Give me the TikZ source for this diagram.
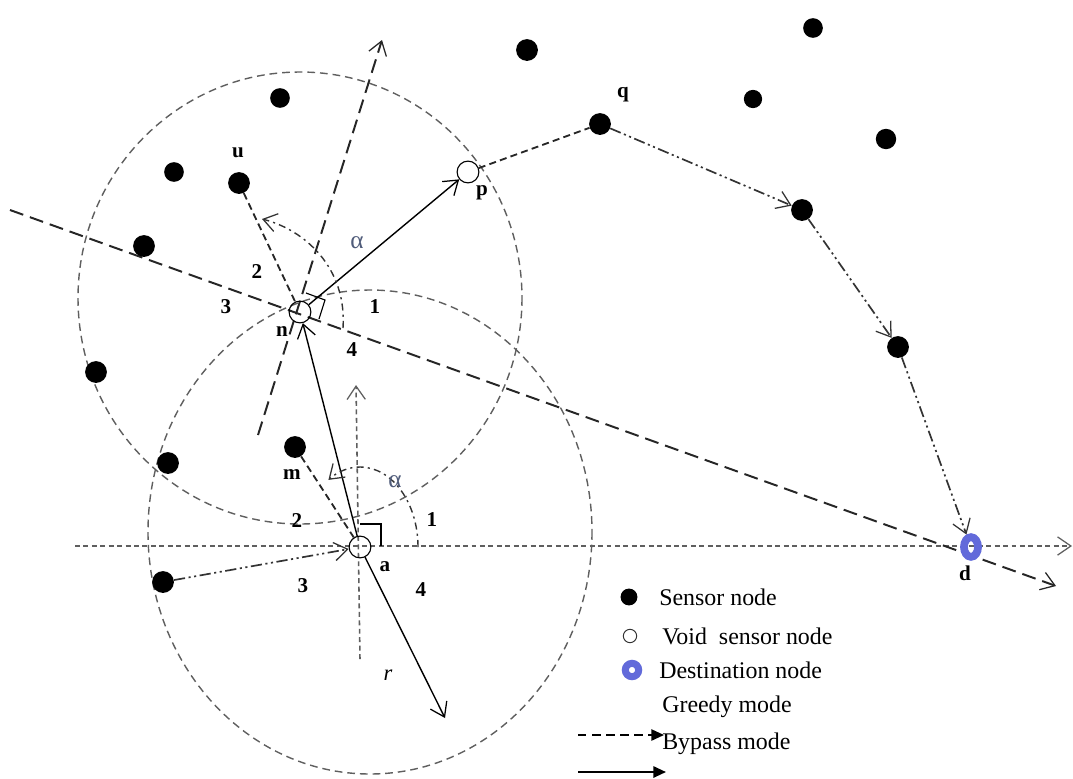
\documentclass[tikz,border=0pt]{standalone}
\usepackage{fontspec}
\setmainfont{Liberation Serif}
\usetikzlibrary{arrows.meta,shapes.geometric}

\definecolor{ringgray}{RGB}{95,95,95}
\definecolor{destblue}{RGB}{98,106,218}
\definecolor{alphagray}{RGB}{80,92,122}

\tikzset{
	sensor/.style={circle, fill=black, inner sep=0pt, minimum size=15.5pt},
	voidnode/.style={circle, draw=black, line width=0.8pt, inner sep=0pt, minimum size=15.5pt},
	dest/.style={ellipse, draw=destblue, line width=5.5pt, inner sep=0pt, minimum width=10pt, minimum height=14pt},
	lbl/.style={font=\bfseries\fontsize{15}{17}\selectfont, inner sep=0pt},
	legtext/.style={font=\fontsize{17}{19}\selectfont, inner sep=0pt, anchor=west},
	alphalbl/.style={font=\fontsize{18}{20}\selectfont, text=alphagray, inner sep=0pt},
	barb/.style={-{Straight Barb[length=9.5pt, width=13pt, line width=0.9pt]}},
	bigdash/.style={line width=1.4pt, draw=black!85, dash pattern=on 10pt off 5pt},
	ringdash/.style={line width=1pt, draw=ringgray, dash pattern=on 5.5pt off 3.5pt},
	dotline/.style={line width=1.1pt, draw=ringgray, dash pattern=on 3.5pt off 2.5pt},
	bypass/.style={line width=1.3pt, draw=black!85, dash pattern=on 5pt off 3pt},
	chain/.style={line width=1.2pt, draw=black!80, dash pattern=on 8pt off 2.5pt on 1.5pt off 2.5pt on 1.5pt off 2.5pt},
	anglearc/.style={line width=1pt, draw=black!80, dash pattern=on 5pt off 3pt on 1.5pt off 3pt},
	solidarrow/.style={line width=1pt, draw=black}
}

\begin{document}
\begin{tikzpicture}[x=0.025cm, y=-0.025cm]
	\useasboundingbox (0,0) rectangle (1073,778);

	\draw[ringdash] (300,298) ellipse [x radius=222, y radius=226];
	\draw[ringdash] (370,532) ellipse [x radius=222, y radius=242];

	\coordinate (hl) at (75,546);
	\coordinate (hr) at (1072,546);
	\coordinate (vb) at (360,659);
	\coordinate (vt) at (356,385);
	\draw[dotline, barb] (hl) -- (hr);
	\draw[dotline, barb] (vb) -- (vt);

	\coordinate (ll) at (10,210);
	\coordinate (lr) at (1056,586);
	\coordinate (pb) at (258,435);
	\coordinate (pt) at (382,40);
	\draw[bigdash, barb] (ll) -- (lr);
	\draw[bigdash, barb] (pb) -- (pt);

	\node[voidnode] (a) at (360,547) {};
	\node[voidnode] (n) at (300,312) {};
	\node[voidnode] (p) at (468,172) {};
	\node[dest] (d) at (971,547) {};

	\node[sensor, minimum size=14pt] (s1) at (280,98) {};
	\node[sensor, minimum size=14pt] (s2) at (174,172) {};
	\node[sensor] (u) at (239,183) {};
	\node[sensor] (s3) at (144,246) {};
	\node[sensor] (s4) at (96,372) {};
	\node[sensor] (s5) at (168,463) {};
	\node[sensor] (m) at (295,447) {};
	\node[sensor] (s6) at (163,582) {};
	\node[sensor] (s7) at (527,50) {};
	\node[sensor] (q) at (600,124) {};
	\node[sensor, minimum size=13pt] (s8) at (753,99) {};
	\node[sensor, minimum size=14pt] (s9) at (813,28) {};
	\node[sensor, minimum size=14.5pt] (s10) at (886,139) {};
	\node[sensor] (s11) at (802,210) {};
	\node[sensor] (s12) at (898,347) {};

	\draw[solidarrow, barb] (a) -- (n);
	\draw[solidarrow, barb] (n) -- (p);
	\coordinate (rend) at (445,718);
	\draw[solidarrow, barb] (a) -- (rend);

	\draw[bypass] (p) -- (q);
	\draw[bypass] (m) -- (a);
	\draw[bypass] (u) -- (n);

	\draw[chain, barb] (q) -- (s11);
	\draw[chain, barb] (s11) -- (s12);
	\draw[chain, barb] (s12) -- (d);
	\draw[chain, barb] (s6) -- (a);

	\draw[anglearc, barb] (418,547) arc [start angle=0, end angle=-123, x radius=58, y radius=80];
	\draw[anglearc, barb] (343,328) .. controls (347,268) and (305,230) .. (262,219);

	\draw[line width=0.8pt] (360,524) -- (381,524) -- (381,546);
	\draw[line width=0.8pt] (306,293) -- (325,300) -- (319,319);

	\node[lbl] (nlab) at (282,332) {n};
	\node[lbl] (alab) at (385,567) {a};
	\node[lbl] (plab) at (482,193) {p};
	\node[lbl] (qlab) at (623,95) {q};
	\node[lbl] (ulab) at (238,153) {u};
	\node[lbl] (mlab) at (292,475) {m};
	\node[lbl] (dlab) at (965,573) {d};
	\node[font=\itshape\fontsize{16}{18}\selectfont, inner sep=0pt] (rlab) at (388,675) {r};

	\node[lbl] (n1) at (375,307) {1};
	\node[lbl] (n2) at (257,272) {2};
	\node[lbl] (n3) at (226,307) {3};
	\node[lbl] (n4) at (352,350) {4};
	\node[lbl] (a1) at (432,520) {1};
	\node[lbl] (a2) at (297,521) {2};
	\node[lbl] (a3) at (303,586) {3};
	\node[lbl] (a4) at (421,590) {4};
	\node[alphalbl] (nal) at (357,243) {α};
	\node[alphalbl] (aal) at (395,482) {α};

	\node[sensor, minimum size=12pt] (k1) at (629,597) {};
	\node[circle, draw=black!80, line width=0.7pt, inner sep=0pt, minimum size=9.5pt] (k2) at (630,636) {};
	\node[circle, draw=destblue, line width=5pt, inner sep=0pt, minimum size=9.5pt] (k3) at (632,670) {};
	\node[legtext] (t1) at (659,597) {Sensor node};
	\node[legtext] (t2) at (662,636) {Void\ \ sensor node};
	\node[legtext] (t3) at (659,670) {Destination node};
	\node[legtext] (t4) at (662,707) {Greedy mode};
	\node[legtext] (t5) at (662,744) {Bypass mode};
	\coordinate (g1) at (578,735);
	\coordinate (g2) at (664,735);
	\coordinate (b1) at (578,772);
	\coordinate (b2) at (666,772);
	\draw[line width=1.3pt, dash pattern=on 6pt off 4pt, -{Triangle[length=9pt, width=8pt]}] (g1) -- (g2);
	\draw[line width=1.5pt, -{Triangle[length=9pt, width=8pt]}] (b1) -- (b2);
\end{tikzpicture}
\end{document}
